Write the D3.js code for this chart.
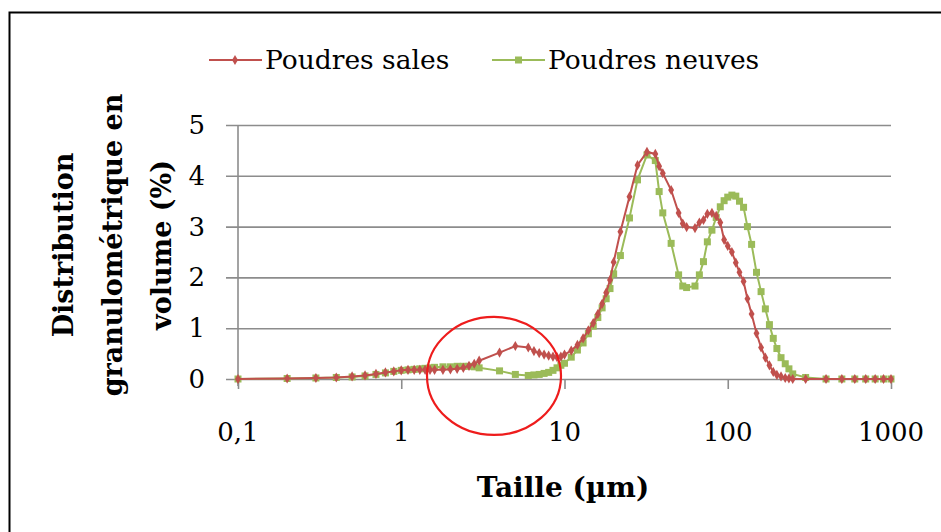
<!DOCTYPE html>
<html>
<head>
<meta charset="utf-8">
<script src="https://cdn.jsdelivr.net/npm/d3@7"></script>
<style>
  html, body { margin: 0; padding: 0; background: #fff; }
  svg { display: block; }
</style>
</head>
<body>
<svg id="chart" width="941" height="532" font-family="'DejaVu Serif', 'Liberation Serif', serif"></svg>
<script>
// Particle sizes (µm) shared by both measurements
const sizes = [0.1, 0.2, 0.3, 0.4, 0.5, 0.6, 0.7, 0.8, 0.9, 1,
  1.1, 1.2, 1.3, 1.4, 1.5, 1.6, 1.8, 2, 2.2, 2.4, 2.6, 2.8, 3, 4, 5,
  6, 6.5, 7, 7.5, 8, 8.5, 9, 9.5, 10,
  11, 12, 13, 14, 15, 16, 17, 18, 19, 20, 22, 25, 28, 32, 36, 38, 40,
  45, 50, 53, 56, 63, 67, 71, 75, 80, 85, 90, 95, 100, 106, 112, 118,
  125, 132, 140, 150, 160, 170, 180, 190, 200, 212, 225, 237, 250, 300,
  400, 500, 600, 700, 800, 900, 1000];

// Volume distribution (%) — used powders
const poudresSales = [0, 0.01, 0.02, 0.03, 0.05, 0.07, 0.1, 0.13, 0.15, 0.17,
  0.18, 0.18, 0.18, 0.18, 0.18, 0.18, 0.18, 0.19, 0.2, 0.22, 0.26, 0.3, 0.36, 0.52, 0.65,
  0.62, 0.55, 0.51, 0.48, 0.46, 0.44, 0.43, 0.44, 0.48,
  0.56, 0.67, 0.8, 0.96, 1.1, 1.28, 1.48, 1.7, 1.95, 2.3, 2.9, 3.59, 4.21, 4.47, 4.43, 4.19, 4.05,
  3.72, 3.27, 3.06, 2.99, 2.97, 3.08, 3.13, 3.25, 3.27, 3.21, 3.08, 2.74, 2.62, 2.5, 2.29, 2.1,
  1.92, 1.58, 1.28, 0.9, 0.62, 0.42, 0.27, 0.14, 0.08, 0.05, 0.02, 0.01, 0, 0,
  0, 0, 0, 0, 0, 0, 0];

// Volume distribution (%) — new powders
const poudresNeuves = [0, 0.01, 0.02, 0.03, 0.04, 0.06, 0.09, 0.12, 0.15, 0.17,
  0.18, 0.19, 0.2, 0.21, 0.22, 0.23, 0.24, 0.24, 0.25, 0.25, 0.25, 0.24, 0.22, 0.16, 0.09,
  0.07, 0.08, 0.09, 0.11, 0.13, 0.17, 0.22, 0.27, 0.31,
  0.43, 0.57, 0.71, 0.89, 1.04, 1.21, 1.4, 1.58, 1.78, 2.07, 2.43, 3.17, 3.92, 4.41, 4.3, 3.69, 3.27,
  2.67, 2.05, 1.83, 1.8, 1.83, 2.05, 2.31, 2.7, 2.93, 3.18, 3.39, 3.51, 3.58, 3.62, 3.6, 3.5,
  3.38, 3.0, 2.65, 2.1, 1.72, 1.38, 1.07, 0.8, 0.6, 0.42, 0.3, 0.2, 0.1, 0.03,
  0, 0, 0, 0, 0, 0, 0];

const xTicks = [0.1, 1, 10, 100, 1000];
const xTickLabels = ["0,1", "1", "10", "100", "1000"];
const yTicks = [0, 1, 2, 3, 4, 5];

const seriesNames = ["Poudres sales", "Poudres neuves"];
const colors = ["#c0504d", "#9bbb59"];

const svg = d3.select("#chart");

// outer frame
svg.append("rect")
  .attr("x", 9.5).attr("y", 12.5)
  .attr("width", 940).attr("height", 530)
  .attr("fill", "none").attr("stroke", "#000").attr("stroke-width", 2);

const x = d3.scaleLog().domain([0.1, 1000]).range([238, 891]);
const y = d3.scaleLinear().domain([0, 5]).range([379, 125]);

const gridColor = "#8c8c8c";

// horizontal gridlines (the 0 line doubles as the x axis)
const gy = svg.append("g").attr("transform", "translate(891,0)")
  .call(d3.axisLeft(y).tickValues(yTicks).tickSize(891 - 226).tickFormat(""));
gy.select(".domain").remove();
gy.selectAll(".tick line").attr("stroke", gridColor).attr("stroke-width", 1.6);

// y tick labels
svg.append("g").selectAll("text").data(yTicks).join("text")
  .attr("x", 205).attr("y", d => y(d) + 9)
  .attr("text-anchor", "end")
  .attr("font-size", 26)
  .text(d => d);

// vertical axis line
svg.append("line")
  .attr("x1", x(0.1)).attr("x2", x(0.1))
  .attr("y1", y(5)).attr("y2", y(0) + 7)
  .attr("stroke", gridColor).attr("stroke-width", 1.6);

// x ticks
const gx = svg.append("g").attr("transform", `translate(0,${y(0)})`)
  .call(d3.axisBottom(x).tickValues(xTicks).tickSize(10).tickFormat(""));
gx.select(".domain").remove();
gx.selectAll(".tick line").attr("stroke", gridColor).attr("stroke-width", 1.6);

svg.append("g").selectAll("text").data(xTicks).join("text")
  .attr("x", d => x(d)).attr("y", 441)
  .attr("text-anchor", "middle")
  .attr("font-size", 26)
  .text((d, i) => xTickLabels[i]);

// axis titles
svg.append("text")
  .attr("x", 563).attr("y", 497)
  .attr("text-anchor", "middle")
  .attr("font-size", 28).attr("font-weight", "bold")
  .text("Taille (µm)");

const yTitle = ["Distribution", "granulométrique en", "volume (%)"];
svg.append("g").attr("transform", "translate(0,245) rotate(-90)")
  .selectAll("text").data(yTitle).join("text")
  .attr("x", 0).attr("y", (d, i) => 73 + i * 49)
  .attr("text-anchor", "middle")
  .attr("font-size", 27).attr("font-weight", "bold")
  .text(d => d);

// series
const line = d3.line().x(d => x(d[0])).y(d => y(d[1]));
const seriesData = [poudresSales, poudresNeuves].map(vals => sizes.map((s, i) => [s, vals[i]]));

// draw the new powders first so the used powders sit beside them
[1, 0].forEach(k => {
  const g = svg.append("g");
  g.append("path").datum(seriesData[k])
    .attr("d", line).attr("fill", "none")
    .attr("stroke", colors[k]).attr("stroke-width", 2);
  if (k === 1) {
    g.selectAll("rect").data(seriesData[k]).join("rect")
      .attr("x", d => x(d[0]) - 3.5).attr("y", d => y(d[1]) - 3.5)
      .attr("width", 7).attr("height", 7).attr("fill", colors[k]);
  } else {
    g.selectAll("path.m").data(seriesData[k]).join("path").attr("class", "m")
      .attr("d", d3.symbol(d3.symbolDiamond, 30))
      .attr("transform", d => `translate(${x(d[0])},${y(d[1])})`)
      .attr("fill", colors[k]);
  }
});

// highlight of the fine fraction
svg.append("ellipse")
  .attr("cx", x(3.7)).attr("cy", y(0.06))
  .attr("rx", 67).attr("ry", 59)
  .attr("fill", "none").attr("stroke", "#ee1c1c").attr("stroke-width", 2.2);

// legend
const legendX = [209, 492];
seriesNames.forEach((name, k) => {
  const g = svg.append("g").attr("transform", `translate(${legendX[k]},60)`);
  g.append("line").attr("x1", 0).attr("x2", 53).attr("y1", 0).attr("y2", 0)
    .attr("stroke", colors[k]).attr("stroke-width", 2);
  if (k === 1) {
    g.append("rect").attr("x", 23).attr("y", -3.5).attr("width", 7).attr("height", 7).attr("fill", colors[k]);
  } else {
    g.append("path").attr("d", d3.symbol(d3.symbolDiamond, 30)).attr("transform", "translate(26,0)").attr("fill", colors[k]);
  }
  g.append("text").attr("x", 56).attr("y", 9).attr("font-size", 26.5).text(name);
});
</script>
</body>
</html>
